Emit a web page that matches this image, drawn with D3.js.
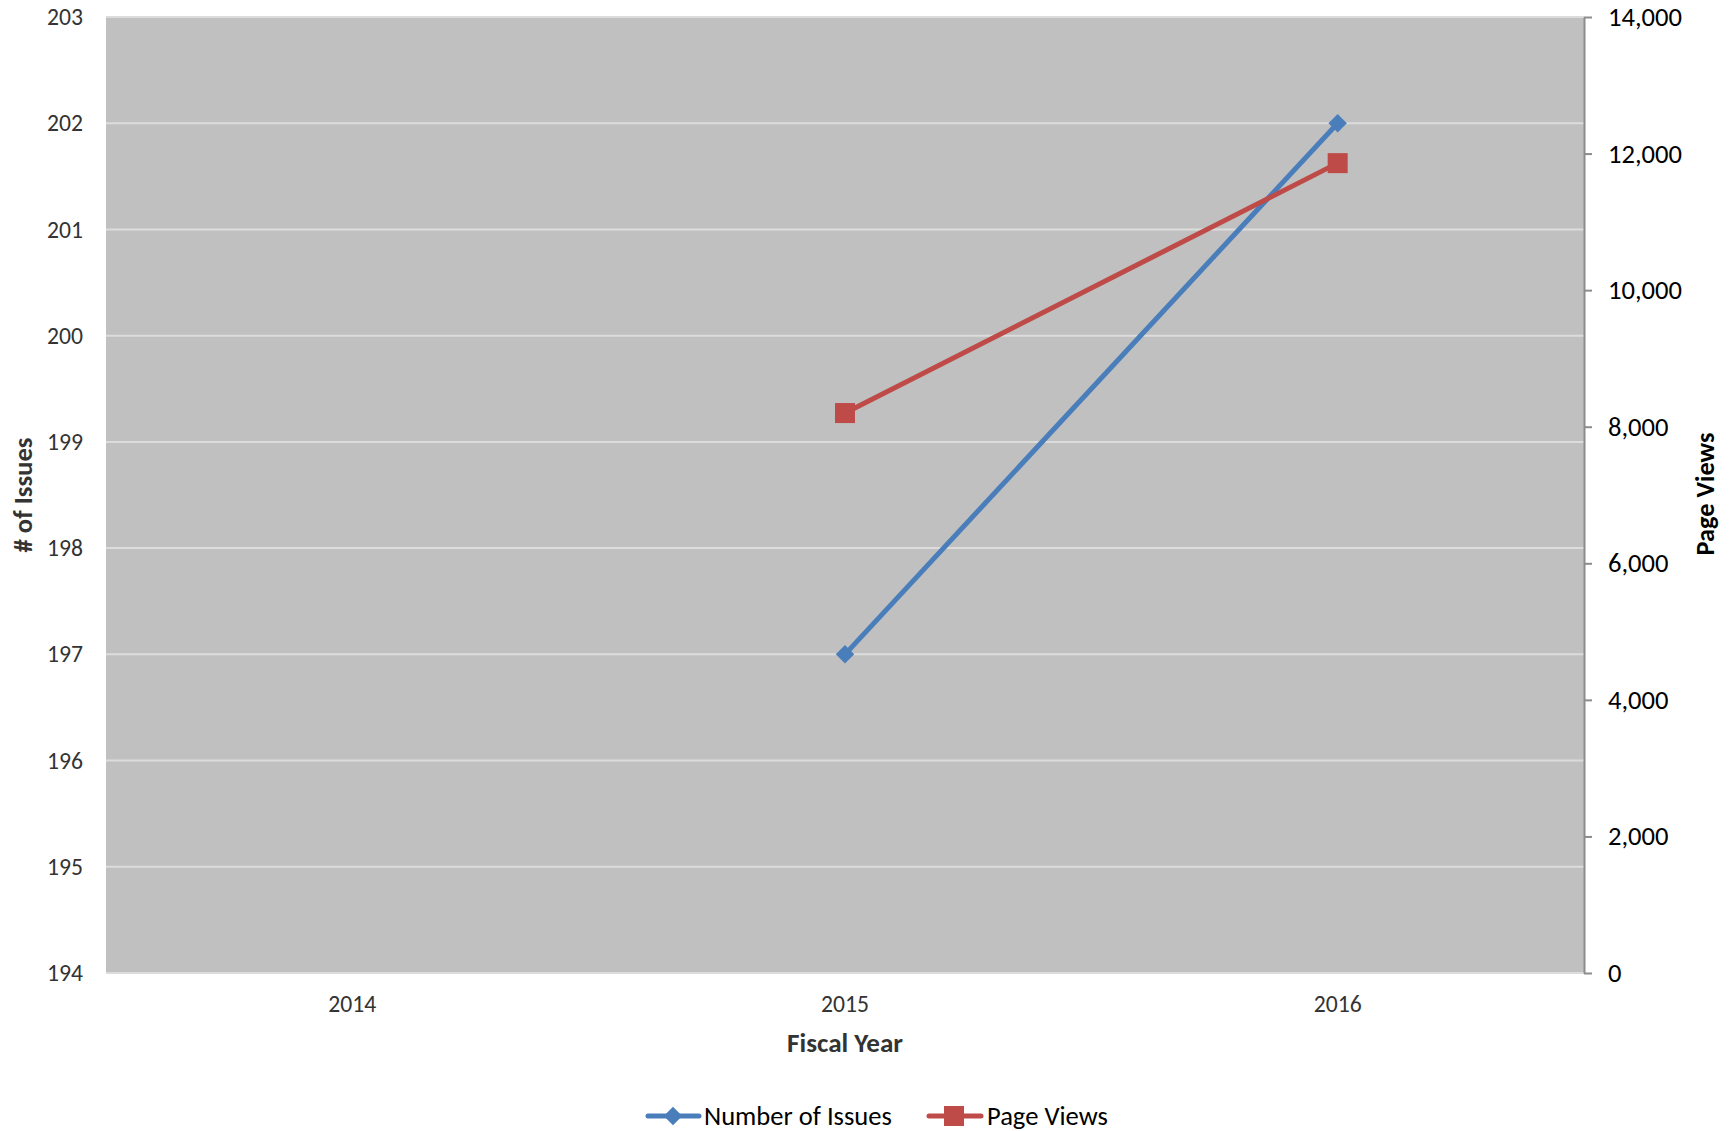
<!DOCTYPE html>
<html><head><meta charset="utf-8">
<script src="https://cdn.jsdelivr.net/npm/d3@7"></script>
<style>body{margin:0;background:#fff}svg{display:block}</style>
</head><body>
<script>
const categories = ["2014","2015","2016"];
const issues = [null, 197, 202];
const pageViews = [null, 8200, 11860];
const leftTicks = [194,195,196,197,198,199,200,201,202,203];
const rightTicks = [0,2000,4000,6000,8000,10000,12000,14000];

const W=1734,H=1131;
const m={l:106,t:17,r:1584,b:973};
const svg=d3.select("body").append("svg").attr("width",W).attr("height",H);
const font="Carlito, Calibri, Lato, 'Open Sans', sans-serif";

// fit font size of a selection so a sample text reaches a target width
function fitSize(sample, target, weight){
  const t=svg.append("text").attr("font-family",font).attr("font-size",100)
    .attr("font-weight",weight||"normal").text(sample);
  const w=t.node().getBBox().width; t.remove();
  return 100*target/w;
}
const fsLeft=fitSize("203",36);
const fsX=fitSize("2015",48);
const fsRight=fitSize("14,000",74);
const fsTitleX=fitSize("Fiscal Year",116,"bold");
const fsTitleL=fitSize("# of Issues",115,"bold");
const fsTitleR=fitSize("Page Views",123,"bold");
const fsLeg=fitSize("Number of Issues",188);

const x=d3.scaleBand().domain(categories).range([m.l,m.r]);
const yL=d3.scaleLinear().domain([194,203]).range([m.b,m.t]);
const yR=d3.scaleLinear().domain([0,14000]).range([m.b,m.t]);

svg.append("rect").attr("x",m.l).attr("y",m.t).attr("width",m.r-m.l).attr("height",m.b-m.t).attr("fill","#c0c0c0");

// gridlines
svg.append("g").selectAll("line").data(leftTicks).join("line")
 .attr("x1",m.l).attr("x2",m.r).attr("y1",d=>yL(d)).attr("y2",d=>yL(d))
 .attr("stroke","#dcdcdc").attr("stroke-width",2);

// left axis labels
const gL=svg.append("g").attr("transform",`translate(${m.l},0)`)
 .call(d3.axisLeft(yL).tickValues(leftTicks).tickSize(0).tickPadding(23));
gL.select(".domain").remove();
gL.selectAll("text").attr("font-family",font).attr("font-size",fsLeft).attr("fill","#333");

// right axis
const gR=svg.append("g").attr("transform",`translate(${m.r},0)`)
 .call(d3.axisRight(yR).tickValues(rightTicks).tickSize(8).tickPadding(16).tickFormat(d3.format(",")).tickSizeOuter(0));
gR.select(".domain").attr("stroke","#8c8c8c").attr("stroke-width",2);
gR.selectAll(".tick line").attr("stroke","#8c8c8c").attr("stroke-width",2);
gR.selectAll("text").attr("font-family",font).attr("font-size",fsRight).attr("fill","#000");

// x axis
const gX=svg.append("g").attr("transform",`translate(0,${m.b})`)
 .call(d3.axisBottom(x).tickSize(0));
gX.select(".domain").remove();
gX.selectAll("text").attr("y",39).attr("dy",0).attr("font-family",font).attr("font-size",fsX).attr("fill","#333");

// axis titles
svg.append("text").attr("x",(m.l+m.r)/2).attr("y",1052).attr("text-anchor","middle")
 .attr("font-family",font).attr("font-weight","bold").attr("font-size",fsTitleX).attr("fill","#333").text("Fiscal Year");
svg.append("text").attr("transform","translate(32,495) rotate(-90)").attr("text-anchor","middle")
 .attr("font-family",font).attr("font-weight","bold").attr("font-size",fsTitleL).attr("fill","#333").text("# of Issues");
svg.append("text").attr("transform","translate(1714,494) rotate(-90)").attr("text-anchor","middle")
 .attr("font-family",font).attr("font-weight","bold").attr("font-size",fsTitleR).attr("fill","#000").text("Page Views");

const blue="#4a7ebb", red="#be4b48";
const cx=d=>x(d)+x.bandwidth()/2;

const lineL=d3.line().defined(d=>d[1]!=null).x(d=>cx(d[0])).y(d=>yL(d[1]));
const lineR=d3.line().defined(d=>d[1]!=null).x(d=>cx(d[0])).y(d=>yR(d[1]));
const dI=categories.map((c,i)=>[c,issues[i]]);
const dP=categories.map((c,i)=>[c,pageViews[i]]);

svg.append("path").attr("d",lineL(dI)).attr("fill","none").attr("stroke",blue).attr("stroke-width",5).attr("stroke-linejoin","round").attr("stroke-linecap","round");
svg.append("path").attr("d",lineR(dP)).attr("fill","none").attr("stroke",red).attr("stroke-width",5).attr("stroke-linejoin","round").attr("stroke-linecap","round");

const diamond=d3.symbol().type(d3.symbolSquare).size(170);
svg.append("g").selectAll("path").data(dI.filter(d=>d[1]!=null)).join("path")
 .attr("d",diamond).attr("fill",blue)
 .attr("transform",d=>`translate(${cx(d[0])},${yL(d[1])}) rotate(45)`);
svg.append("g").selectAll("rect").data(dP.filter(d=>d[1]!=null)).join("rect")
 .attr("x",d=>cx(d[0])-10).attr("y",d=>yR(d[1])-10).attr("width",20).attr("height",20).attr("fill",red);

// legend
const ly=1116;
const lg=svg.append("g");
lg.append("line").attr("x1",648).attr("x2",699).attr("y1",ly).attr("y2",ly).attr("stroke",blue).attr("stroke-width",5).attr("stroke-linecap","round");
lg.append("path").attr("d",d3.symbol().type(d3.symbolSquare).size(170)).attr("fill",blue).attr("transform",`translate(673,${ly}) rotate(45)`);
lg.append("text").attr("x",704).attr("y",ly).attr("dy","0.35em").attr("font-family",font).attr("font-size",fsLeg).attr("fill","#000").text("Number of Issues");
lg.append("line").attr("x1",929).attr("x2",981).attr("y1",ly).attr("y2",ly).attr("stroke",red).attr("stroke-width",5).attr("stroke-linecap","round");
lg.append("rect").attr("x",944).attr("y",ly-10).attr("width",20).attr("height",20).attr("fill",red);
lg.append("text").attr("x",987).attr("y",ly).attr("dy","0.35em").attr("font-family",font).attr("font-size",fsLeg).attr("fill","#000").text("Page Views");
</script>
</body></html>
